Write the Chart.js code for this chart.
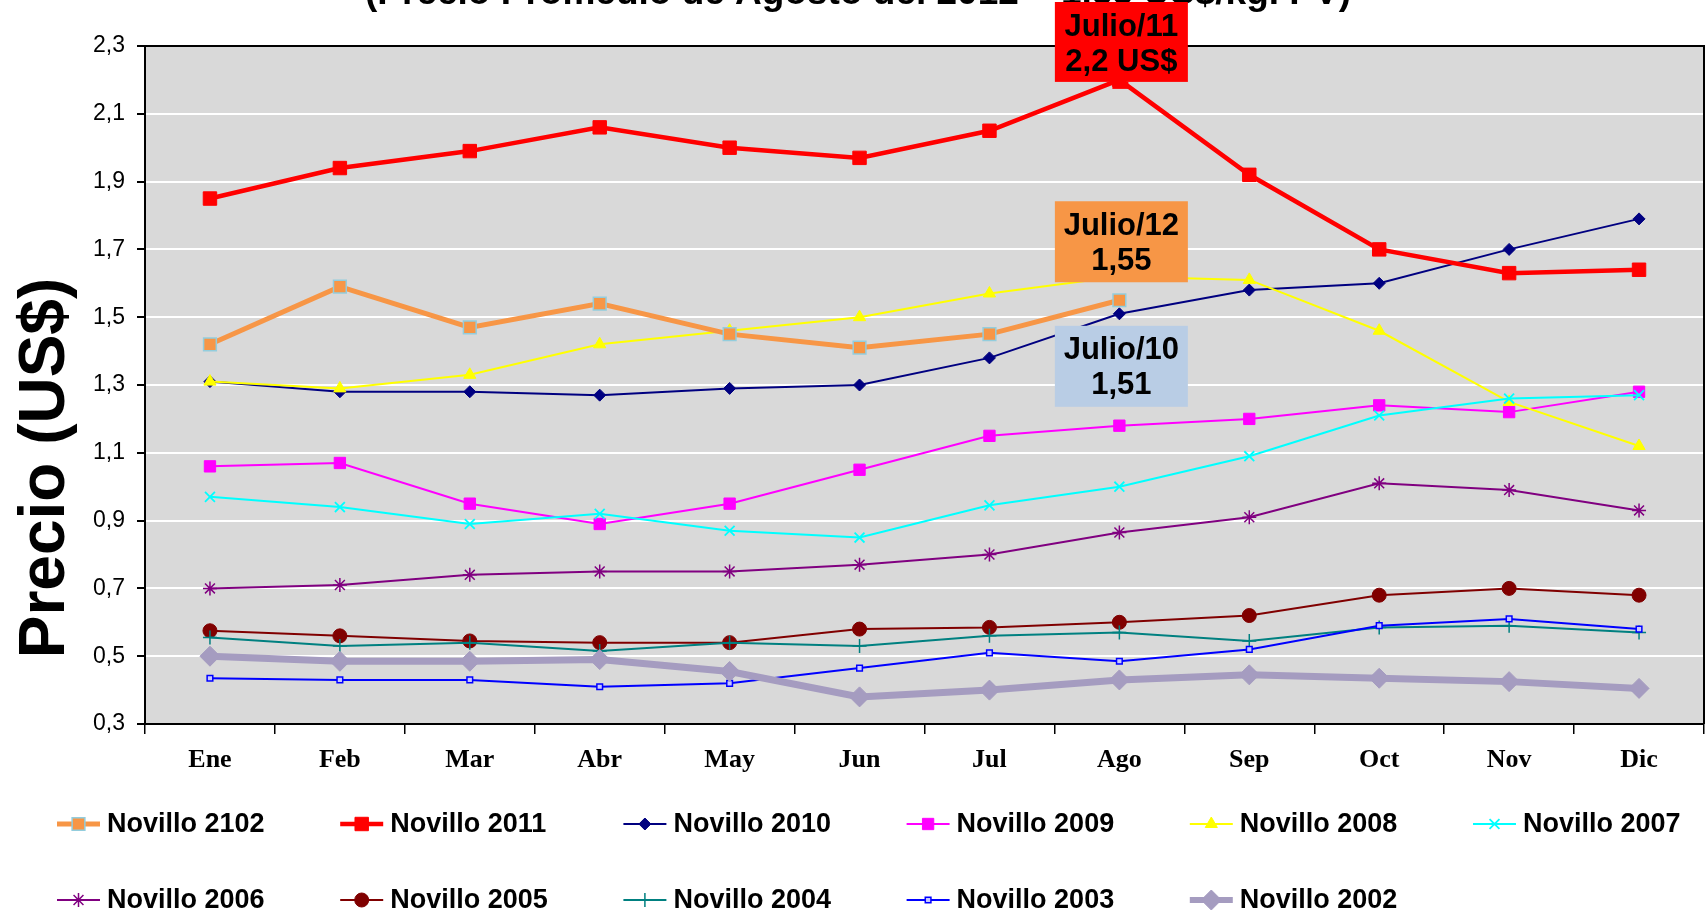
<!DOCTYPE html>
<html><head><meta charset="utf-8">
<script src="https://cdn.jsdelivr.net/npm/chart.js@4/dist/chart.umd.min.js"></script>
<style>html,body{margin:0;padding:0;background:#fff;overflow:hidden}</style>
</head><body>
<canvas id="c" width="1708" height="913"></canvas>
<script>
const months = ['Ene','Feb','Mar','Abr','May','Jun','Jul','Ago','Sep','Oct','Nov','Dic'];
const yTicks = [0.3,0.5,0.7,0.9,1.1,1.3,1.5,1.7,1.9,2.1,2.3];
const seriesNames = ['Novillo 2102','Novillo 2011','Novillo 2010','Novillo 2009','Novillo 2008','Novillo 2007','Novillo 2006','Novillo 2005','Novillo 2004','Novillo 2003','Novillo 2002'];
const nov2012 = [1.42,1.59,1.47,1.54,1.45,1.41,1.45,1.55];
const nov2011 = [1.85,1.94,1.99,2.06,2.00,1.97,2.05,2.20,1.92,1.70,1.63,1.64];
const nov2010 = [1.31,1.28,1.28,1.27,1.29,1.30,1.38,1.51,1.58,1.60,1.70,1.79];
const nov2009 = [1.06,1.07,0.95,0.89,0.95,1.05,1.15,1.18,1.20,1.24,1.22,1.28];
const nov2008 = [1.31,1.29,1.33,1.42,1.46,1.50,1.57,1.62,1.61,1.46,1.25,1.12];
const nov2007 = [0.97,0.94,0.89,0.92,0.87,0.85,0.945,1.00,1.09,1.21,1.26,1.27];
const nov2006 = [0.70,0.71,0.74,0.75,0.75,0.77,0.80,0.865,0.91,1.01,0.99,0.93];
const nov2005 = [0.575,0.56,0.545,0.54,0.54,0.58,0.585,0.60,0.62,0.68,0.70,0.68];
const nov2004 = [0.555,0.53,0.54,0.515,0.54,0.53,0.56,0.57,0.545,0.585,0.59,0.57];
const nov2003 = [0.435,0.43,0.43,0.41,0.42,0.465,0.51,0.485,0.52,0.59,0.61,0.58];
const nov2002 = [0.50,0.485,0.485,0.49,0.455,0.38,0.40,0.43,0.445,0.435,0.425,0.405];
const titleText = '(Precio Promedio de Agosto del 2012 = 1,55 US$/kg. PV)';
const yTitle = 'Precio (US$)';
const notes = [
  {lines:['Julio/11','2,2 US$'], series:1, idx:7, bg:'#ff0000'},
  {lines:['Julio/12','1,55'], series:0, idx:7, bg:'#f79646'},
  {lines:['Julio/10','1,51'], series:2, idx:7, bg:'#b9cde5'}
];

const seriesData = [nov2012,nov2011,nov2010,nov2009,nov2008,nov2007,nov2006,nov2005,nov2004,nov2003,nov2002];
const styles = [
  {c:'#f79646', w:5, ps:'rect', r:9, bg:'#f79646', bc:'#93cddd', bw:1.5},
  {c:'#ff0000', w:4.5, ps:'rect', r:9.5, bg:'#ff0000', bc:'#ff0000', bw:1},
  {c:'#000080', w:2, ps:'rectRot', r:6, bg:'#000080', bc:'#000080', bw:1},
  {c:'#ff00ff', w:2, ps:'rect', r:8, bg:'#ff00ff', bc:'#ff00ff', bw:1},
  {c:'#ffff00', w:2, ps:'triangle', r:7, bg:'#ffff00', bc:'#ffff00', bw:1},
  {c:'#00ffff', w:2, ps:'crossRot', r:7, bg:'#00ffff', bc:'#00ffff', bw:1.8},
  {c:'#800080', w:2, ps:'star', r:7, bg:'#800080', bc:'#800080', bw:1.5},
  {c:'#800000', w:2, ps:'circle', r:7, bg:'#800000', bc:'#800000', bw:1},
  {c:'#008080', w:2, ps:'cross', r:7, bg:'#008080', bc:'#008080', bw:1.5},
  {c:'#0000ff', w:2, ps:'rect', r:4, bg:'#c8c8ff', bc:'#0000ff', bw:1.5},
  {c:'#a59cc0', w:7, ps:'rectRot', r:10, bg:'#a59cc0', bc:'#a59cc0', bw:1}
];

const datasets = seriesData.map((d,i)=>({
  label: seriesNames[i], data: d,
  borderColor: styles[i].c, borderWidth: styles[i].w,
  pointStyle: styles[i].ps, pointRadius: styles[i].r, pointHoverRadius: styles[i].r,
  pointBackgroundColor: styles[i].bg, pointBorderColor: styles[i].bc, pointBorderWidth: styles[i].bw,
  tension: 0, fill: false, order: seriesData.length - i
}));
datasets[1].order = -1;
datasets[0].order = -2;

const SANS = '"Liberation Sans", Arial, sans-serif';
const SERIF = '"Liberation Serif", "Times New Roman", serif';

const deco = {
  id:'deco',
  beforeDraw(chart){
    const {ctx, chartArea:a} = chart;
    ctx.save();
    ctx.fillStyle='#fff'; ctx.fillRect(0,0,chart.width,chart.height);
    ctx.fillStyle='#d9d9d9'; ctx.fillRect(a.left,a.top,a.right-a.left,a.bottom-a.top);
    ctx.restore();
  },
  beforeDatasetsDraw(chart){
    const {ctx, chartArea:a} = chart;
    ctx.save();
    ctx.strokeStyle='#000'; ctx.lineWidth=2;
    ctx.beginPath();
    ctx.moveTo(a.left,a.top); ctx.lineTo(a.right,a.top); ctx.lineTo(a.right,a.bottom);
    ctx.stroke();
    ctx.restore();
  },
  afterDraw(chart){
    const {ctx} = chart;
    const xs = chart.scales.x, ys = chart.scales.y;
    ctx.save();
    ctx.fillStyle='#000';
    ctx.font='bold 37px '+SANS;
    ctx.textAlign='center'; ctx.textBaseline='alphabetic';
    ctx.fillText(titleText, 858, 4);
    ctx.save();
    ctx.translate(46, 468); ctx.rotate(-Math.PI/2);
    ctx.font='bold 64px '+SANS; ctx.textAlign='center'; ctx.textBaseline='middle';
    ctx.fillText(yTitle, 0, 0);
    ctx.restore();
    notes.forEach((n,k)=>{
      const cx = xs.getPixelForValue(n.idx);
      const py = ys.getPixelForValue(seriesData[n.series][n.idx]);
      let top, bottom;
      const w=133, h=81;
      if(k===0){ bottom = py+2; top = 2; }
      else if(k===1){ bottom = py-18; top = bottom-h; }
      else { top = py+12; bottom = top+h; }
      ctx.fillStyle=n.bg;
      ctx.fillRect(cx-w/2+2, top, w, bottom-top);
      if(k===0){ ctx.fillRect(cx-7, bottom, 16, 7); }
      ctx.fillStyle='#000';
      ctx.font='bold 31px '+SANS; ctx.textAlign='center'; ctx.textBaseline='middle';
      ctx.fillText(n.lines[0], cx+2, top+25);
      ctx.fillText(n.lines[1], cx+2, top+60);
    });
    const colX0 = 57, colStep = 283.2, rowY = [824, 900];
    datasets.forEach((ds,i)=>{
      const col=i%6, row=Math.floor(i/6);
      const x0 = colX0 + col*colStep, y = rowY[row];
      ctx.strokeStyle=ds.borderColor; ctx.lineWidth=Math.min(ds.borderWidth,6);
      ctx.beginPath(); ctx.moveTo(x0,y); ctx.lineTo(x0+43,y); ctx.stroke();
      ctx.fillStyle=ds.pointBackgroundColor; ctx.strokeStyle=ds.pointBorderColor; ctx.lineWidth=ds.pointBorderWidth;
      Chart.helpers.drawPoint(ctx, {pointStyle:ds.pointStyle, radius:ds.pointRadius, rotation:0, borderWidth:ds.pointBorderWidth}, x0+21.5, y);
      ctx.fillStyle='#000'; ctx.font='bold 27px '+SANS; ctx.textAlign='left'; ctx.textBaseline='middle';
      ctx.fillText(ds.label, x0+50, y+1);
    });
    ctx.restore();
  }
};

new Chart(document.getElementById('c'), {
  type:'line',
  data:{labels:months, datasets},
  options:{
    responsive:false, animation:false, devicePixelRatio:1,
    layout:{autoPadding:false, padding:{top:46,right:4,bottom:129,left:0}},
    plugins:{legend:{display:false}, tooltip:{enabled:false}, title:{display:false}},
    scales:{
      x:{
        type:'category', offset:true,
        grid:{offset:true, drawOnChartArea:false, drawTicks:true, tickLength:10, tickColor:'#000', lineWidth:1.5},
        border:{display:true, color:'#000', width:2},
        ticks:{color:'#000', font:{family:SERIF, size:26, weight:'bold'}, padding:11, maxRotation:0, autoSkip:false},
        afterFit(s){ s.height = 60; s.paddingLeft = 0; s.paddingRight = 0; }
      },
      y:{
        min:0.3, max:2.3,
        afterBuildTicks(s){ s.ticks = yTicks.map(v=>({value:v})); },
        grid:{color:'#ffffff', lineWidth:2, tickColor:'#000', tickLength:8, drawTicks:true},
        border:{display:true, color:'#000', width:2},
        ticks:{color:'#000', font:{family:SANS, size:23}, padding:12,
          callback:(v)=>Number(v).toFixed(1).replace('.',',')},
        afterFit(s){ s.width = 145; s.paddingTop = 0; s.paddingBottom = 0; }
      }
    }
  },
  plugins:[deco]
});
</script>
</body></html>
